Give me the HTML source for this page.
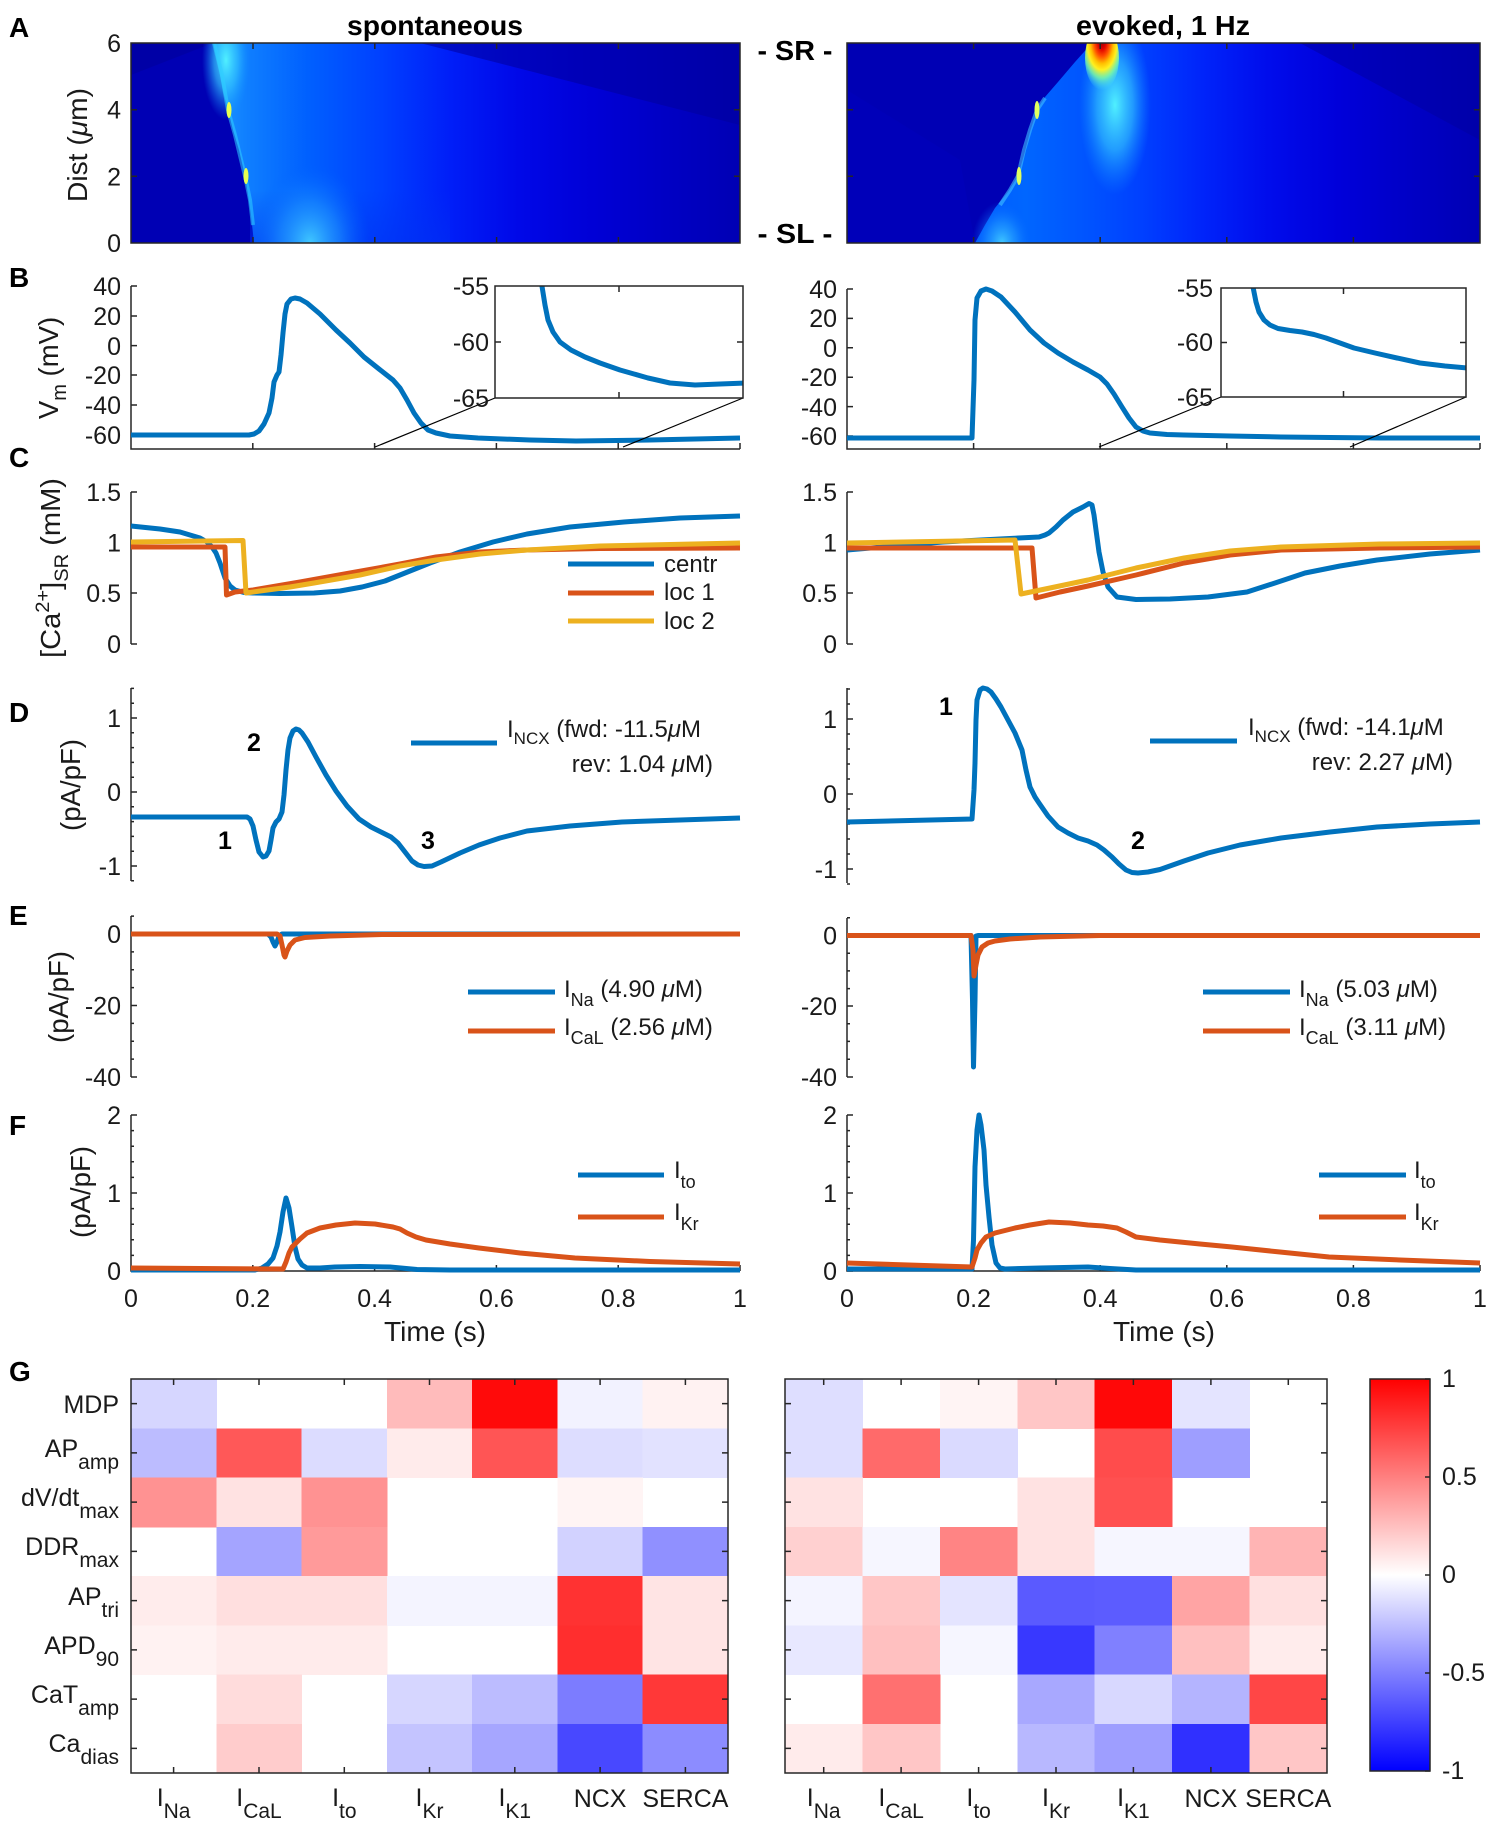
<!DOCTYPE html>
<html><head><meta charset="utf-8"><style>
html,body{margin:0;padding:0;background:#fff;overflow:hidden}
svg{display:block}
.tk{font-size:25px;fill:#1a1a1a}
.lb{font-size:27.5px;fill:#1a1a1a}
.lg{font-size:24px;fill:#1a1a1a}
.bd{font-weight:bold;fill:#000}
.ax{stroke:#262626;stroke-width:1.5;fill:none}
.c{fill:none;stroke-width:5;stroke-linejoin:round;stroke-linecap:butt}
.bl{stroke:#0072BD}.or{stroke:#D95319}.ye{stroke:#EDB120}
</style></head><body>
<svg width="1501" height="1831" viewBox="0 0 1501 1831" xmlns="http://www.w3.org/2000/svg" font-family="'Liberation Sans', Arial, sans-serif">
<defs>
<clipPath id="cA1"><rect x="131" y="43" width="609" height="200"/></clipPath>
<clipPath id="cA2"><rect x="847" y="43" width="633" height="200"/></clipPath>
<clipPath id="cI1"><rect x="495" y="286" width="248" height="112"/></clipPath>
<clipPath id="cI2"><rect x="1221" y="288" width="245" height="109"/></clipPath>
<linearGradient id="gA1" gradientUnits="userSpaceOnUse" x1="213" y1="0" x2="740" y2="0">
<stop offset="0" stop-color="#1C98FF"/><stop offset="0.06" stop-color="#1080FF"/><stop offset="0.18" stop-color="#0060FF"/><stop offset="0.32" stop-color="#0040FF"/><stop offset="0.45" stop-color="#001EF8"/><stop offset="0.58" stop-color="#0008E8"/><stop offset="0.72" stop-color="#0000D6"/><stop offset="0.86" stop-color="#0000C4"/><stop offset="1" stop-color="#0000B4"/>
</linearGradient>
<linearGradient id="gA2" gradientUnits="userSpaceOnUse" x1="975" y1="0" x2="1480" y2="0">
<stop offset="0" stop-color="#005CFF"/><stop offset="0.1" stop-color="#0066FF"/><stop offset="0.22" stop-color="#0054FF"/><stop offset="0.33" stop-color="#0040FF"/><stop offset="0.45" stop-color="#0024FA"/><stop offset="0.58" stop-color="#000CEC"/><stop offset="0.72" stop-color="#0000DA"/><stop offset="0.86" stop-color="#0000C6"/><stop offset="1" stop-color="#0000B4"/>
</linearGradient>
<linearGradient id="gBot" x1="0" y1="0" x2="0" y2="1"><stop offset="0" stop-color="#0030F0" stop-opacity="0"/><stop offset="1" stop-color="#0030F0" stop-opacity="0.5"/></linearGradient>
<radialGradient id="rBlob"><stop offset="0" stop-color="#40C8FF"/><stop offset="0.5" stop-color="#2098FF" stop-opacity="0.6"/><stop offset="1" stop-color="#0060FF" stop-opacity="0"/></radialGradient>
<radialGradient id="rCyan"><stop offset="0" stop-color="#50F0FF"/><stop offset="0.5" stop-color="#30C0FF" stop-opacity="0.7"/><stop offset="1" stop-color="#1090FF" stop-opacity="0"/></radialGradient>
<radialGradient id="rHot" cx="0.5" cy="0.25" r="0.75"><stop offset="0" stop-color="#A00000"/><stop offset="0.15" stop-color="#E00000"/><stop offset="0.3" stop-color="#FF5000"/><stop offset="0.45" stop-color="#FFC000"/><stop offset="0.58" stop-color="#FFF020"/><stop offset="0.75" stop-color="#80FFA0" stop-opacity="0.8"/><stop offset="1" stop-color="#40E0FF" stop-opacity="0"/></radialGradient>
<linearGradient id="gCb" x1="0" y1="0" x2="0" y2="1"><stop offset="0" stop-color="#FF0000"/><stop offset="0.5" stop-color="#FFFFFF"/><stop offset="1" stop-color="#0000FF"/></linearGradient>
</defs>

<!-- Titles -->
<text class="bd" x="435" y="35" font-size="27.5" text-anchor="middle" textLength="176" lengthAdjust="spacingAndGlyphs">spontaneous</text>
<text class="bd" x="1163" y="35" font-size="27.5" text-anchor="middle" textLength="174" lengthAdjust="spacingAndGlyphs">evoked, 1 Hz</text>
<text class="bd" x="795" y="60" font-size="27.5" text-anchor="middle" textLength="75" lengthAdjust="spacingAndGlyphs">- SR -</text>
<text class="bd" x="795" y="243" font-size="27.5" text-anchor="middle" textLength="75" lengthAdjust="spacingAndGlyphs">- SL -</text>

<!-- Panel letters -->
<g class="bd" font-size="28">
<text x="9" y="37">A</text><text x="9" y="287">B</text><text x="9" y="467">C</text><text x="9" y="722">D</text><text x="9" y="925">E</text><text x="9" y="1135">F</text><text x="9" y="1381">G</text>
</g>

<!-- ===== Panel A left ===== -->
<g clip-path="url(#cA1)">
<rect x="131" y="43" width="609" height="200" fill="#0000B4"/>
<polygon points="131,43 213,43 131,75" fill="#0000A6"/>
<polygon points="213,43 219,70 224,95 228,110 233,130 239,150 245,176 248,195 251,215 254,243 740,243 740,43" fill="url(#gA1)"/>
<polygon points="420,43 740,43 740,125" fill="#00009C" opacity="0.55"/>
<rect x="250" y="190" width="200" height="53" fill="url(#gBot)"/>
<ellipse cx="310" cy="243" rx="60" ry="80" fill="url(#rBlob)"/>
<ellipse cx="226" cy="60" rx="24" ry="60" fill="url(#rCyan)"/>
<polyline points="214,43 222,75 228,110 235,135 245,176 250,200 253,225" fill="none" stroke="#30D0FF" stroke-width="4" opacity="0.55"/>
<ellipse cx="229" cy="110" rx="2.5" ry="8" fill="#E8FF50"/>
<ellipse cx="246" cy="176" rx="2.5" ry="8" fill="#E8FF50"/>
</g>
<rect x="131" y="43" width="609" height="200" class="ax"/>
<path class="ax" d="M253 243v-6M374.8 243v-6M496.6 243v-6M618.4 243v-6M253 43v6M374.8 43v6M496.6 43v6M618.4 43v6M131 109.7h6M131 176.3h6M740 109.7h-6M740 176.3h-6"/>
<g class="tk" text-anchor="end"><text x="121" y="52">6</text><text x="121" y="118.7">4</text><text x="121" y="185.3">2</text><text x="121" y="252">0</text></g>
<text class="lb" transform="translate(87,145) rotate(-90)" text-anchor="middle" textLength="114" lengthAdjust="spacingAndGlyphs">Dist (<tspan font-style="italic">μ</tspan>m)</text>

<!-- ===== Panel A right ===== -->
<g clip-path="url(#cA2)">
<rect x="847" y="43" width="633" height="200" fill="#0000B4"/>
<polygon points="847,90 960,160 975,243 847,243" fill="#0000BC" opacity="0.6"/>
<polygon points="975,243 985,225 995,208 1008,192 1018,176 1024,155 1030,132 1037,110 1045,97 1058,82 1075,62 1092,43 1480,43 1480,243" fill="url(#gA2)"/>
<polygon points="1300,43 1480,43 1480,140" fill="#0000A0" opacity="0.5"/>
<ellipse cx="1002" cy="243" rx="30" ry="42" fill="url(#rBlob)"/>
<ellipse cx="1115" cy="105" rx="36" ry="90" fill="url(#rCyan)"/>
<polyline points="1000,205 1010,190 1018,176 1024,150 1030,130 1037,110 1045,98" fill="none" stroke="#40C0FF" stroke-width="4" opacity="0.6"/>
<ellipse cx="1019" cy="176" rx="2.5" ry="9" fill="#E0FF60"/>
<ellipse cx="1037" cy="110" rx="2.5" ry="9" fill="#E0FF60"/>
<ellipse cx="1102" cy="58" rx="17" ry="32" fill="url(#rHot)"/>
</g>
<rect x="847" y="43" width="633" height="200" class="ax"/>
<path class="ax" d="M973.6 243v-6M1100.2 243v-6M1226.8 243v-6M1353.4 243v-6M973.6 43v6M1100.2 43v6M1226.8 43v6M1353.4 43v6M847 109.7h6M847 176.3h6M1480 109.7h-6M1480 176.3h-6"/>

<!-- ===== Panel B left ===== -->
<path class="ax" d="M131 286V449H740"/>
<path class="ax" d="M131 286h6M131 316h6M131 345.6h6M131 375h6M131 405h6M131 435h6M252.8 449v-6M374.6 449v-6M496.4 449v-6M618.2 449v-6M740 449v-6"/>
<g class="tk" text-anchor="end"><text x="121" y="295">40</text><text x="121" y="325">20</text><text x="121" y="355">0</text><text x="121" y="384">-20</text><text x="121" y="414">-40</text><text x="121" y="444">-60</text></g>
<text class="lb" transform="translate(58,368) rotate(-90)" text-anchor="middle">V<tspan dy="8" font-size="20">m</tspan><tspan dy="-8"> (mV)</tspan></text>
<polyline class="c bl" stroke-width="5.5" points="131,435 249,435 254,434 259,431 264,424 269,413 272,398 274,382 277,375 279,372 281,355 283,333 285,314 287,304 291,299 295,298 300,299 307,303 320,314 336,330 350,343 364,357 379,369 393,380 400,388 407,400 414,413 421,423 428,430 436,433 450,436 478,438 530,440 576,441 650,440 740,438"/>
<line x1="375" y1="447" x2="495" y2="398" stroke="#000" stroke-width="1.2"/>
<line x1="623" y1="447" x2="743" y2="398" stroke="#000" stroke-width="1.2"/>
<rect x="495" y="286" width="248" height="112" fill="#fff"/>
<g clip-path="url(#cI1)"><polyline class="c bl" stroke-width="5.5" points="541,280 545,305 548,320 553,332 560,342 571,350 585,357 600,363 620,370 648,378 670,383 695,385 720,384 745,383"/></g>
<rect x="495" y="286" width="248" height="112" class="ax"/>
<path class="ax" d="M619 286v6M619 398v-6M495 342h6M743 342h-6"/>
<g class="tk" text-anchor="end"><text x="489" y="295">-55</text><text x="489" y="351">-60</text><text x="489" y="407">-65</text></g>

<!-- ===== Panel B right ===== -->
<path class="ax" d="M847 289V449H1480"/>
<path class="ax" d="M847 289h6M847 318.4h6M847 347.8h6M847 377.2h6M847 406.6h6M847 436h6M973.6 449v-6M1100.2 449v-6M1226.8 449v-6M1353.4 449v-6M1480 449v-6"/>
<g class="tk" text-anchor="end"><text x="837" y="298">40</text><text x="837" y="327">20</text><text x="837" y="357">0</text><text x="837" y="386">-20</text><text x="837" y="416">-40</text><text x="837" y="445">-60</text></g>
<polyline class="c bl" stroke-width="5.5" points="847,438 972,438 974,380 975,320 977,298 981,291 986,289 992,291 1001,297 1015,312 1030,330 1044,343 1058,353 1073,362 1088,370 1100,377 1107,384 1114,394 1122,407 1129,418 1136,427 1143,431 1150,433 1167,434.5 1184,435 1230,436 1281,437 1380,438 1480,438"/>
<line x1="1099" y1="447" x2="1221" y2="397" stroke="#000" stroke-width="1.2"/>
<line x1="1350" y1="447" x2="1466" y2="397" stroke="#000" stroke-width="1.2"/>
<rect x="1221" y="288" width="245" height="109" fill="#fff"/>
<g clip-path="url(#cI2)"><polyline class="c bl" stroke-width="5.5" points="1252,282 1256,302 1259,312 1264,320 1270,325 1278,328.5 1290,330.5 1302,332 1314,334.5 1326,338 1340,343 1354,348 1375,353 1397,358 1420,363 1445,366 1468,368"/></g>
<rect x="1221" y="288" width="245" height="109" class="ax"/>
<path class="ax" d="M1343.5 288v6M1343.5 397v-6M1221 342.5h6M1466 342.5h-6"/>
<g class="tk" text-anchor="end"><text x="1213" y="297">-55</text><text x="1213" y="351">-60</text><text x="1213" y="406">-65</text></g>

<!-- ===== Panel C left ===== -->
<path class="ax" d="M131 492V644M131 492h6M131 542.5h6M131 593h6M131 644h6"/>
<g class="tk" text-anchor="end"><text x="121" y="501">1.5</text><text x="121" y="551.5">1</text><text x="121" y="602">0.5</text><text x="121" y="653">0</text></g>
<text class="lb" transform="translate(60,568) rotate(-90)" text-anchor="middle" textLength="180" lengthAdjust="spacingAndGlyphs">[Ca<tspan dy="-11" font-size="19">2+</tspan><tspan dy="11">]</tspan><tspan dy="8" font-size="19">SR</tspan><tspan dy="-8"> (mM)</tspan></text>
<polyline class="c bl" points="131,526 160,529 180,532 200,538 207,542 212,547 216,553 220,563 225,578 230,586 235,590 244,592.5 253,593 280,593.5 314,593 340,591 362,587 385,581 405,573 430,563 460,552 493,542 527,534 570,527 624,522 680,518 740,516"/>
<polyline class="c or" points="131,547 225,547 226.5,595 235,592 253,590 300,582 350,573 400,564 436,557 480,552 527,550 600,548.5 740,548"/>
<polyline class="c ye" points="131,542 243,540.5 246,593 260,591 290,587 314,583 360,575 400,566 436,560 480,554 527,550 600,546 740,543"/>
<line class="c bl" x1="568" y1="564" x2="654" y2="564"/>
<line class="c or" x1="568" y1="593" x2="654" y2="593"/>
<line class="c ye" x1="568" y1="621" x2="654" y2="621"/>
<g class="lg"><text x="664" y="572">centr</text><text x="664" y="600">loc 1</text><text x="664" y="629">loc 2</text></g>

<!-- ===== Panel C right ===== -->
<path class="ax" d="M847 492V644M847 492h6M847 542.5h6M847 593h6M847 644h6"/>
<g class="tk" text-anchor="end"><text x="837" y="501">1.5</text><text x="837" y="551.5">1</text><text x="837" y="602">0.5</text><text x="837" y="653">0</text></g>
<polyline class="c bl" points="847,550 943,542 1000,539 1039,537 1045,535 1049,533 1056,527 1063,520 1073,512 1083,507 1089,503.5 1092,505 1094,515 1096,530 1099,552 1103,572 1108,587 1117,597 1136,599.5 1170,599 1208,597 1247,592 1275,583 1305,573 1340,566 1377,560 1430,554 1480,550"/>
<polyline class="c or" points="847,548 1032,548 1036,598 1060,592 1088,586 1136,575 1184,563 1230,555 1281,550 1380,548 1480,547"/>
<polyline class="c ye" points="847,543 1015,540 1021,594 1050,588 1088,580 1136,568 1184,558 1230,551 1281,547 1380,544 1480,543"/>

<!-- ===== Panel D left ===== -->
<path class="ax" d="M131 688V881M131 718h6M131 792h6M131 866h6M131 688.4h3M131 703.2h3M131 732.8h3M131 747.6h3M131 762.4h3M131 777.2h3M131 806.8h3M131 821.6h3M131 836.4h3M131 851.2h3M131 880.8h3"/>
<g class="tk" text-anchor="end"><text x="121" y="727">1</text><text x="121" y="801">0</text><text x="121" y="875">-1</text></g>
<text class="lb" transform="translate(80,785) rotate(-90)" text-anchor="middle" textLength="92" lengthAdjust="spacingAndGlyphs">(pA/pF)</text>
<polyline class="c bl" points="131,817 247,817 250,819 253,826 256,840 259,852 263,857 266,856 269,851 271,840 273,828 276,822 279,819 282,812 284,795 286,770 288,750 290,738 293,731 296,729 299,730 302,733 308,742 316,757 326,775 336,791 347,806 359,819 371,827 383,833 391,837 398,843 405,852 412,861 418,865 424,866.5 432,866 441,862 460,853 479,845 500,838 527,831 570,826 622,822 680,820 740,818"/>
<line class="c bl" x1="411" y1="743" x2="497" y2="743"/>
<text class="lg" x="507" y="737">I<tspan dy="7" font-size="17">NCX</tspan><tspan dy="-7" font-size="24"> (fwd: -11.5</tspan><tspan font-style="italic">μ</tspan>M</text>
<text class="lg" x="713" y="772" text-anchor="end">rev: 1.04 <tspan font-style="italic">μ</tspan>M)</text>
<g class="bd" font-size="25" text-anchor="middle"><text x="225" y="849">1</text><text x="254" y="751">2</text><text x="428" y="849">3</text></g>

<!-- ===== Panel D right ===== -->
<path class="ax" d="M847 688V883M847 719h6M847 794h6M847 869h6M847 689h3M847 704h3M847 734h3M847 749h3M847 764h3M847 779h3M847 809h3M847 824h3M847 839h3M847 854h3M847 884h3"/>
<g class="tk" text-anchor="end"><text x="837" y="728">1</text><text x="837" y="803">0</text><text x="837" y="878">-1</text></g>
<polyline class="c bl" points="847,822 972,819 974,790 975,763 976,720 977,700 980,690 983,688 987,689 991,692 996,699 1001,707 1008,720 1015,733 1022,750 1026,770 1030,787 1035,797 1039,803 1048,816 1058,827 1068,833 1078,838 1088,841 1097,845 1104,850 1112,857 1119,864 1126,870 1132,872.5 1138,873 1148,872 1160,869.5 1184,861 1208,853 1240,845 1281,838 1330,832 1377,827 1430,824 1480,822"/>
<line class="c bl" x1="1150" y1="741" x2="1237" y2="741"/>
<text class="lg" x="1248" y="735">I<tspan dy="7" font-size="17">NCX</tspan><tspan dy="-7" font-size="24"> (fwd: -14.1</tspan><tspan font-style="italic">μ</tspan>M</text>
<text class="lg" x="1453" y="770" text-anchor="end">rev: 2.27 <tspan font-style="italic">μ</tspan>M)</text>
<g class="bd" font-size="25" text-anchor="middle"><text x="946" y="715">1</text><text x="1138" y="849">2</text></g>

<!-- ===== Panel E left ===== -->
<path class="ax" d="M131 916V1077M131 934h6M131 1005.5h6M131 1077h6M131 916.1h3M131 951.9h3M131 969.8h3M131 987.6h3M131 1023.4h3M131 1041.3h3M131 1059.1h3"/>
<g class="tk" text-anchor="end"><text x="121" y="943">0</text><text x="121" y="1014.5">-20</text><text x="121" y="1086">-40</text></g>
<text class="lb" transform="translate(68,997) rotate(-90)" text-anchor="middle" textLength="92" lengthAdjust="spacingAndGlyphs">(pA/pF)</text>
<polyline class="c bl" points="131,934 268,934 271,937 273,942 275,946 277,942 279,936 282,934 740,934"/>
<polyline class="c or" points="131,934 277,934 280,936 282,945 284,955 285,957 287,951 290,945 295,940 305,937.5 330,936 383,934.5 740,934"/>
<line class="c bl" x1="468" y1="992" x2="555" y2="992"/>
<line class="c or" x1="468" y1="1031" x2="555" y2="1031"/>
<text class="lg" x="564" y="997">I<tspan dy="9" font-size="18">Na</tspan><tspan dy="-9" font-size="24"> (4.90 </tspan><tspan font-style="italic">μ</tspan>M)</text>
<text class="lg" x="564" y="1035">I<tspan dy="9" font-size="18">CaL</tspan><tspan dy="-9" font-size="24"> (2.56 </tspan><tspan font-style="italic">μ</tspan>M)</text>

<!-- ===== Panel E right ===== -->
<path class="ax" d="M847 918V1077M847 935.5h6M847 1006h6M847 1077h6M847 917.8h3M847 953.2h3M847 970.9h3M847 988.6h3M847 1023.7h3M847 1041.4h3M847 1059.2h3"/>
<g class="tk" text-anchor="end"><text x="837" y="944.5">0</text><text x="837" y="1015">-20</text><text x="837" y="1086">-40</text></g>
<polyline class="c bl" points="847,935.5 971,935.5 972.5,1000 973.5,1067 975,1000 976,936 978,935.5 1480,935.5"/>
<polyline class="c or" points="847,935.5 971,935.5 973,950 974,976 976,965 978,955 982,947 988,943 995,941 1010,939 1040,937 1100,935.5 1480,935.5"/>
<line class="c bl" x1="1203" y1="992" x2="1290" y2="992"/>
<line class="c or" x1="1203" y1="1031" x2="1290" y2="1031"/>
<text class="lg" x="1299" y="997">I<tspan dy="9" font-size="18">Na</tspan><tspan dy="-9" font-size="24"> (5.03 </tspan><tspan font-style="italic">μ</tspan>M)</text>
<text class="lg" x="1299" y="1035">I<tspan dy="9" font-size="18">CaL</tspan><tspan dy="-9" font-size="24"> (3.11 </tspan><tspan font-style="italic">μ</tspan>M)</text>

<!-- ===== Panel F left ===== -->
<path class="ax" d="M131 1115V1271H740"/>
<path class="ax" d="M131 1115h6M131 1193h6M131 1271h6M131 1130.6h3M131 1146.2h3M131 1161.8h3M131 1177.4h3M131 1208.6h3M131 1224.2h3M131 1239.8h3M131 1255.4h3M252.8 1271v-6M374.6 1271v-6M496.4 1271v-6M618.2 1271v-6M740 1271v-6"/>
<g class="tk" text-anchor="end"><text x="121" y="1124">2</text><text x="121" y="1202">1</text><text x="121" y="1280">0</text></g>
<g class="tk" text-anchor="middle"><text x="131" y="1307">0</text><text x="252.8" y="1307">0.2</text><text x="374.6" y="1307">0.4</text><text x="496.4" y="1307">0.6</text><text x="618.2" y="1307">0.8</text><text x="740" y="1307">1</text></g>
<text class="lb" x="435" y="1341" text-anchor="middle" textLength="102" lengthAdjust="spacingAndGlyphs">Time (s)</text>
<text class="lb" transform="translate(90,1192) rotate(-90)" text-anchor="middle" textLength="92" lengthAdjust="spacingAndGlyphs">(pA/pF)</text>
<polyline class="c bl" points="131,1270 255,1270 262,1268 268,1264 273,1258 277,1246 280,1232 283,1212 286,1198 289,1208 292,1227 295,1247 298,1259 302,1265 307,1268 320,1268 335,1267 360,1266.5 390,1267 417,1269.5 450,1270 740,1270"/>
<polyline class="c or" points="131,1268 200,1268.5 283,1269 286,1262 289,1253 292,1247 300,1239 307,1233 320,1228 336,1225 355,1223 375,1224 393,1227 400,1229 407,1233 416,1237 426,1240 450,1244 479,1248 520,1253 575,1258 650,1261.5 740,1264"/>
<line class="c bl" x1="578" y1="1175" x2="664" y2="1175"/>
<line class="c or" x1="578" y1="1217" x2="664" y2="1217"/>
<text class="lg" x="674" y="1178">I<tspan dy="10" font-size="18">to</tspan></text>
<text class="lg" x="674" y="1220">I<tspan dy="10" font-size="18">Kr</tspan></text>

<!-- ===== Panel F right ===== -->
<path class="ax" d="M847 1115V1271H1480"/>
<path class="ax" d="M847 1115h6M847 1193h6M847 1271h6M847 1130.6h3M847 1146.2h3M847 1161.8h3M847 1177.4h3M847 1208.6h3M847 1224.2h3M847 1239.8h3M847 1255.4h3M973.6 1271v-6M1100.2 1271v-6M1226.8 1271v-6M1353.4 1271v-6M1480 1271v-6"/>
<g class="tk" text-anchor="end"><text x="837" y="1124">2</text><text x="837" y="1202">1</text><text x="837" y="1280">0</text></g>
<g class="tk" text-anchor="middle"><text x="847" y="1307">0</text><text x="973.6" y="1307">0.2</text><text x="1100.2" y="1307">0.4</text><text x="1226.8" y="1307">0.6</text><text x="1353.4" y="1307">0.8</text><text x="1480" y="1307">1</text></g>
<text class="lb" x="1164" y="1341" text-anchor="middle" textLength="102" lengthAdjust="spacingAndGlyphs">Time (s)</text>
<polyline class="c bl" points="847,1269 972,1269 973.5,1240 975,1167 977,1130 979,1115 981,1125 984,1150 986,1185 989,1217 992,1245 996,1263 1000,1268 1005,1269 1040,1268 1088,1267 1110,1268.5 1136,1270 1480,1270"/>
<polyline class="c or" points="847,1263 972,1267 975,1258 977,1250 981,1243 986,1237 995,1233 1015,1228 1030,1225 1049,1222 1070,1223 1088,1225 1103,1226 1117,1228 1126,1232 1136,1237 1160,1240 1200,1244 1232,1247 1280,1252 1329,1257 1400,1260 1480,1263"/>
<line class="c bl" x1="1319" y1="1175" x2="1406" y2="1175"/>
<line class="c or" x1="1319" y1="1217" x2="1406" y2="1217"/>
<text class="lg" x="1414" y="1178">I<tspan dy="10" font-size="18">to</tspan></text>
<text class="lg" x="1414" y="1220">I<tspan dy="10" font-size="18">Kr</tspan></text>

<!-- ===== Panel G left heatmap ===== -->
<g shape-rendering="crispEdges">
<rect x="131" y="1379" width="85.8" height="49.75" fill="#D6D6FF"/>
<rect x="386.9" y="1379" width="85.8" height="49.75" fill="#FFBBBB"/>
<rect x="472.1" y="1379" width="85.8" height="49.75" fill="#FF0A0A"/>
<rect x="557.4" y="1379" width="85.8" height="49.75" fill="#F2F2FF"/>
<rect x="642.7" y="1379" width="85.8" height="49.75" fill="#FFF2F2"/>
<rect x="131" y="1428.25" width="85.8" height="49.75" fill="#BCBCFF"/>
<rect x="216.3" y="1428.25" width="85.8" height="49.75" fill="#FF5858"/>
<rect x="301.6" y="1428.25" width="85.8" height="49.75" fill="#DCDCFF"/>
<rect x="386.9" y="1428.25" width="85.8" height="49.75" fill="#FFEBEB"/>
<rect x="472.1" y="1428.25" width="85.8" height="49.75" fill="#FF5555"/>
<rect x="557.4" y="1428.25" width="85.8" height="49.75" fill="#DDDDFF"/>
<rect x="642.7" y="1428.25" width="85.8" height="49.75" fill="#E2E2FF"/>
<rect x="131" y="1477.5" width="85.8" height="49.75" fill="#FF9292"/>
<rect x="216.3" y="1477.5" width="85.8" height="49.75" fill="#FFE2E2"/>
<rect x="301.6" y="1477.5" width="85.8" height="49.75" fill="#FF9292"/>
<rect x="557.4" y="1477.5" width="85.8" height="49.75" fill="#FFF4F4"/>
<rect x="216.3" y="1526.75" width="85.8" height="49.75" fill="#A4A4FF"/>
<rect x="301.6" y="1526.75" width="85.8" height="49.75" fill="#FF9A9A"/>
<rect x="557.4" y="1526.75" width="85.8" height="49.75" fill="#D2D2FF"/>
<rect x="642.7" y="1526.75" width="85.8" height="49.75" fill="#9090FF"/>
<rect x="131" y="1576" width="85.8" height="49.75" fill="#FFECEC"/>
<rect x="216.3" y="1576" width="85.8" height="49.75" fill="#FFDFDF"/>
<rect x="301.6" y="1576" width="85.8" height="49.75" fill="#FFDFDF"/>
<rect x="386.9" y="1576" width="85.8" height="49.75" fill="#F4F4FF"/>
<rect x="472.1" y="1576" width="85.8" height="49.75" fill="#F4F4FF"/>
<rect x="557.4" y="1576" width="85.8" height="49.75" fill="#FF3232"/>
<rect x="642.7" y="1576" width="85.8" height="49.75" fill="#FFE4E4"/>
<rect x="131" y="1625.25" width="85.8" height="49.75" fill="#FFF2F2"/>
<rect x="216.3" y="1625.25" width="85.8" height="49.75" fill="#FFEBEB"/>
<rect x="301.6" y="1625.25" width="85.8" height="49.75" fill="#FFEBEB"/>
<rect x="557.4" y="1625.25" width="85.8" height="49.75" fill="#FF2E2E"/>
<rect x="642.7" y="1625.25" width="85.8" height="49.75" fill="#FFE4E4"/>
<rect x="216.3" y="1674.5" width="85.8" height="49.75" fill="#FFDCDC"/>
<rect x="386.9" y="1674.5" width="85.8" height="49.75" fill="#D6D6FF"/>
<rect x="472.1" y="1674.5" width="85.8" height="49.75" fill="#BCBCFF"/>
<rect x="557.4" y="1674.5" width="85.8" height="49.75" fill="#7C7CFF"/>
<rect x="642.7" y="1674.5" width="85.8" height="49.75" fill="#FF3838"/>
<rect x="216.3" y="1723.75" width="85.8" height="49.25" fill="#FFCCCC"/>
<rect x="386.9" y="1723.75" width="85.8" height="49.25" fill="#C4C4FF"/>
<rect x="472.1" y="1723.75" width="85.8" height="49.25" fill="#A6A6FF"/>
<rect x="557.4" y="1723.75" width="85.8" height="49.25" fill="#4848FF"/>
<rect x="642.7" y="1723.75" width="85.8" height="49.25" fill="#8C8CFF"/>
</g>
<rect x="131" y="1379" width="597" height="394" class="ax"/>
<path class="ax" d="M131 1403.6h6M131 1452.9h6M131 1502.1h6M131 1551.4h6M131 1600.6h6M131 1649.9h6M131 1699.1h6M131 1748.4h6M728 1403.6h-6M728 1452.9h-6M728 1502.1h-6M728 1551.4h-6M728 1600.6h-6M728 1649.9h-6M728 1699.1h-6M728 1748.4h-6M173.6 1379v6M259 1379v6M344.3 1379v6M429.5 1379v6M514.8 1379v6M600.1 1379v6M685.4 1379v6M173.6 1773v-6M259 1773v-6M344.3 1773v-6M429.5 1773v-6M514.8 1773v-6M600.1 1773v-6M685.4 1773v-6"/>
<g class="tk" text-anchor="end">
<text x="119" y="1413">MDP</text>
<text x="119" y="1457">AP<tspan dy="12" font-size="21">amp</tspan></text>
<text x="119" y="1506">dV/dt<tspan dy="12" font-size="21">max</tspan></text>
<text x="119" y="1555">DDR<tspan dy="12" font-size="21">max</tspan></text>
<text x="119" y="1605">AP<tspan dy="12" font-size="21">tri</tspan></text>
<text x="119" y="1654">APD<tspan dy="12" font-size="21">90</tspan></text>
<text x="119" y="1703">CaT<tspan dy="12" font-size="21">amp</tspan></text>
<text x="119" y="1752">Ca<tspan dy="12" font-size="21">dias</tspan></text>
</g>
<g class="tk" text-anchor="middle">
<text x="173.6" y="1806">I<tspan dy="12" font-size="21">Na</tspan></text>
<text x="259" y="1806">I<tspan dy="12" font-size="21">CaL</tspan></text>
<text x="344.3" y="1806">I<tspan dy="12" font-size="21">to</tspan></text>
<text x="429.5" y="1806">I<tspan dy="12" font-size="21">Kr</tspan></text>
<text x="514.8" y="1806">I<tspan dy="12" font-size="21">K1</tspan></text>
<text x="600.1" y="1807">NCX</text>
<text x="685.4" y="1807">SERCA</text>
</g>

<!-- ===== Panel G right heatmap ===== -->
<g shape-rendering="crispEdges">
<rect x="785" y="1379" width="77.9" height="49.75" fill="#DEDEFF"/>
<rect x="939.9" y="1379" width="77.9" height="49.75" fill="#FFF4F4"/>
<rect x="1017.3" y="1379" width="77.9" height="49.75" fill="#FFC6C6"/>
<rect x="1094.7" y="1379" width="77.9" height="49.75" fill="#FF0808"/>
<rect x="1172.1" y="1379" width="77.9" height="49.75" fill="#E4E4FF"/>
<rect x="785" y="1428.25" width="77.9" height="49.75" fill="#DEDEFF"/>
<rect x="862.4" y="1428.25" width="77.9" height="49.75" fill="#FF6A6A"/>
<rect x="939.9" y="1428.25" width="77.9" height="49.75" fill="#DADAFF"/>
<rect x="1094.7" y="1428.25" width="77.9" height="49.75" fill="#FF4C4C"/>
<rect x="1172.1" y="1428.25" width="77.9" height="49.75" fill="#9E9EFF"/>
<rect x="785" y="1477.5" width="77.9" height="49.75" fill="#FFE2E2"/>
<rect x="1017.3" y="1477.5" width="77.9" height="49.75" fill="#FFE2E2"/>
<rect x="1094.7" y="1477.5" width="77.9" height="49.75" fill="#FF5050"/>
<rect x="785" y="1526.75" width="77.9" height="49.75" fill="#FFD0D0"/>
<rect x="862.4" y="1526.75" width="77.9" height="49.75" fill="#F6F6FF"/>
<rect x="939.9" y="1526.75" width="77.9" height="49.75" fill="#FF8484"/>
<rect x="1017.3" y="1526.75" width="77.9" height="49.75" fill="#FFE2E2"/>
<rect x="1094.7" y="1526.75" width="77.9" height="49.75" fill="#F6F6FF"/>
<rect x="1172.1" y="1526.75" width="77.9" height="49.75" fill="#F6F6FF"/>
<rect x="1249.6" y="1526.75" width="77.9" height="49.75" fill="#FFB4B4"/>
<rect x="785" y="1576" width="77.9" height="49.75" fill="#F4F4FF"/>
<rect x="862.4" y="1576" width="77.9" height="49.75" fill="#FFC6C6"/>
<rect x="939.9" y="1576" width="77.9" height="49.75" fill="#E4E4FF"/>
<rect x="1017.3" y="1576" width="77.9" height="49.75" fill="#5A5AFF"/>
<rect x="1094.7" y="1576" width="77.9" height="49.75" fill="#5C5CFF"/>
<rect x="1172.1" y="1576" width="77.9" height="49.75" fill="#FFA4A4"/>
<rect x="1249.6" y="1576" width="77.9" height="49.75" fill="#FFE0E0"/>
<rect x="785" y="1625.25" width="77.9" height="49.75" fill="#E8E8FF"/>
<rect x="862.4" y="1625.25" width="77.9" height="49.75" fill="#FFC0C0"/>
<rect x="939.9" y="1625.25" width="77.9" height="49.75" fill="#F6F6FF"/>
<rect x="1017.3" y="1625.25" width="77.9" height="49.75" fill="#3838FF"/>
<rect x="1094.7" y="1625.25" width="77.9" height="49.75" fill="#8080FF"/>
<rect x="1172.1" y="1625.25" width="77.9" height="49.75" fill="#FFC0C0"/>
<rect x="1249.6" y="1625.25" width="77.9" height="49.75" fill="#FFECEC"/>
<rect x="862.4" y="1674.5" width="77.9" height="49.75" fill="#FF7070"/>
<rect x="1017.3" y="1674.5" width="77.9" height="49.75" fill="#A8A8FF"/>
<rect x="1094.7" y="1674.5" width="77.9" height="49.75" fill="#D8D8FF"/>
<rect x="1172.1" y="1674.5" width="77.9" height="49.75" fill="#B4B4FF"/>
<rect x="1249.6" y="1674.5" width="77.9" height="49.75" fill="#FF4646"/>
<rect x="785" y="1723.75" width="77.9" height="49.25" fill="#FFEBEB"/>
<rect x="862.4" y="1723.75" width="77.9" height="49.25" fill="#FFC6C6"/>
<rect x="1017.3" y="1723.75" width="77.9" height="49.25" fill="#B8B8FF"/>
<rect x="1094.7" y="1723.75" width="77.9" height="49.25" fill="#9E9EFF"/>
<rect x="1172.1" y="1723.75" width="77.9" height="49.25" fill="#3030FF"/>
<rect x="1249.6" y="1723.75" width="77.9" height="49.25" fill="#FFC6C6"/>
</g>
<rect x="785" y="1379" width="542" height="394" class="ax"/>
<path class="ax" d="M785 1403.6h6M785 1452.9h6M785 1502.1h6M785 1551.4h6M785 1600.6h6M785 1649.9h6M785 1699.1h6M785 1748.4h6M1327 1403.6h-6M1327 1452.9h-6M1327 1502.1h-6M1327 1551.4h-6M1327 1600.6h-6M1327 1649.9h-6M1327 1699.1h-6M1327 1748.4h-6M823.7 1379v6M901.1 1379v6M978.6 1379v6M1056 1379v6M1133.4 1379v6M1210.9 1379v6M1288.3 1379v6M823.7 1773v-6M901.1 1773v-6M978.6 1773v-6M1056 1773v-6M1133.4 1773v-6M1210.9 1773v-6M1288.3 1773v-6"/>
<g class="tk" text-anchor="middle">
<text x="823.7" y="1806">I<tspan dy="12" font-size="21">Na</tspan></text>
<text x="901.1" y="1806">I<tspan dy="12" font-size="21">CaL</tspan></text>
<text x="978.6" y="1806">I<tspan dy="12" font-size="21">to</tspan></text>
<text x="1056" y="1806">I<tspan dy="12" font-size="21">Kr</tspan></text>
<text x="1133.4" y="1806">I<tspan dy="12" font-size="21">K1</tspan></text>
<text x="1210.9" y="1807">NCX</text>
<text x="1288.3" y="1807">SERCA</text>
</g>

<!-- Colorbar -->
<rect x="1370" y="1379" width="60" height="392" fill="url(#gCb)"/>
<rect x="1370" y="1379" width="60" height="392" class="ax"/>
<path class="ax" d="M1430 1379h-5M1430 1477h-5M1430 1575h-5M1430 1673h-5M1430 1771h-5"/>
<g class="tk" font-size="22"><text x="1442" y="1387">1</text><text x="1442" y="1485">0.5</text><text x="1442" y="1583">0</text><text x="1442" y="1681">-0.5</text><text x="1442" y="1779">-1</text></g>
</svg>
</body></html>
